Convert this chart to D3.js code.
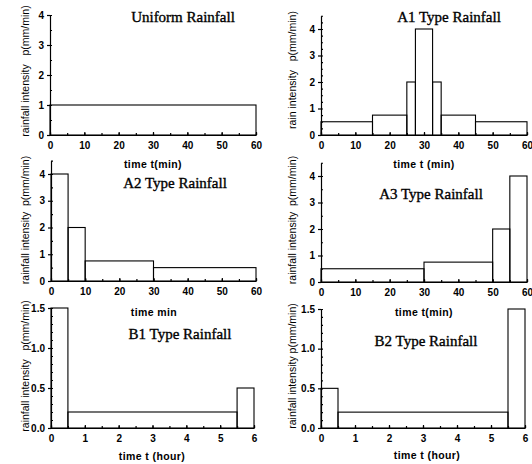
<!DOCTYPE html>
<html>
<head>
<meta charset="utf-8">
<script src="https://cdn.jsdelivr.net/npm/d3@7"></script>
<style>
  body { margin: 0; background: #fff; }
  svg { display: block; }
  .tick text { font-family: "Liberation Sans", Arial, sans-serif; font-weight: bold; font-size: 10px; }
</style>
</head>
<body>
<div id="chart"></div>
<script>
// data: interval edges (time) and intensity of each interval
const uniformEdges = [0, 60];
const uniformValues = [1];
const a1Edges = [0, 15, 25, 27.5, 32.5, 35, 45, 60];
const a1Values = [0.5, 0.75, 2, 4, 2, 0.75, 0.5];
const a2Edges = [0, 5, 10, 30, 60];
const a2Values = [4, 2, 0.75, 0.5];
const a3Edges = [0, 30, 50, 55, 60];
const a3Values = [0.5, 0.75, 2, 4];
const b1Edges = [0, 0.5, 5.5, 6];
const b1Values = [1.5, 0.2, 0.5];
const b2Edges = [0, 0.5, 5.5, 6];
const b2Values = [0.5, 0.2, 1.5];

const minTicks = [0, 10, 20, 30, 40, 50, 60];
const hourTicks = [0, 1, 2, 3, 4, 5, 6];
const intTicks = [0, 1, 2, 3, 4];
const halfTicks = [0, 0.5, 1.0, 1.5];

const titles = ['Uniform Rainfall', 'A1 Type Rainfall', 'A2 Type Rainfall',
  'A3 Type Rainfall', 'B1 Type Rainfall', 'B2 Type Rainfall'];
const yLabels = ['rainfall intensity   p(mm/min)', 'rain intensity   p(mm/min)',
  'rainfall intensity  p(mm/min)', 'rainfall intensity  p(mm/min)',
  'rainfall intensity   p(mm/min)', 'rainfall intensity p(mm/min)'];
const xLabels = ['time t(min)', 'time t (min)', 'time min', 'time t(min)',
  'time t (hour)', 'time t (hour)'];

const width = 532, height = 464;
const svg = d3.select('#chart').append('svg')
  .attr('width', width).attr('height', height);

// panel frames: x0, x1 pixel; y0 = pixel of zero, yRef = pixel of refVal
const panels = [
  { edges: uniformEdges, values: uniformValues, x0: 50, x1: 256, y0: 135, yRef: 15, refVal: 4, yMax: 4,
    xTicks: minTicks, xMinor: 5, yTicks: intTicks, yMinor: 0.5, fmt: d3.format('d'),
    title: [183, 22], xl: [153, 168], yl: [25, 71] },
  { edges: a1Edges, values: a1Values, x0: 321, x1: 527, y0: 135, yRef: 29, refVal: 4, yMax: 4.5,
    xTicks: minTicks, xMinor: 5, yTicks: intTicks, yMinor: 0.25, fmt: d3.format('d'),
    title: [449, 22], xl: [424, 168], yl: [292, 70] },
  { edges: a2Edges, values: a2Values, x0: 51, x1: 256, y0: 281, yRef: 174, refVal: 4, yMax: 4.5,
    xTicks: minTicks, xMinor: 5, yTicks: intTicks, yMinor: 0.5, fmt: d3.format('d'),
    title: [175, 188], xl: [154, 316], yl: [25, 220] },
  { edges: a3Edges, values: a3Values, x0: 321, x1: 527, y0: 282, yRef: 176, refVal: 4, yMax: 4.5,
    xTicks: minTicks, xMinor: 5, yTicks: intTicks, yMinor: 0.5, fmt: d3.format('d'),
    title: [431, 199], xl: [424, 316], yl: [292, 220] },
  { edges: b1Edges, values: b1Values, x0: 51, x1: 254, y0: 428, yRef: 308, refVal: 1.5, yMax: 1.5,
    xTicks: hourTicks, xMinor: 0.5, yTicks: halfTicks, yMinor: 0.1, fmt: d3.format('.1f'),
    title: [180, 339], xl: [152, 460], yl: [25, 366] },
  { edges: b2Edges, values: b2Values, x0: 321, x1: 525, y0: 428, yRef: 309, refVal: 1.5, yMax: 1.5,
    xTicks: hourTicks, xMinor: 0.5, yTicks: halfTicks, yMinor: 0.1, fmt: d3.format('.1f'),
    title: [426, 346], xl: [427, 459], yl: [292, 366] }
];

panels.forEach((p, i) => {
  const g = svg.append('g');
  const xMax = p.xTicks[p.xTicks.length - 1];
  const x = d3.scaleLinear().domain([0, xMax]).range([p.x0, p.x1]);
  const unit = (p.y0 - p.yRef) / p.refVal;
  const y = d3.scaleLinear().domain([0, p.yMax]).range([p.y0, p.y0 - unit * p.yMax]);

  // minor ticks
  const xMinorVals = d3.range(0, xMax + 1e-9, p.xMinor);
  g.append('g')
    .attr('transform', `translate(0,${p.y0})`)
    .call(d3.axisBottom(x).tickValues(xMinorVals).tickSize(-2).tickFormat(''))
    .call(a => a.select('.domain').remove());
  const yMinorVals = d3.range(0, p.yMax + 1e-9, p.yMinor);
  g.append('g')
    .attr('transform', `translate(${p.x0},0)`)
    .call(d3.axisLeft(y).tickValues(yMinorVals).tickSize(-2).tickFormat(''))
    .call(a => a.select('.domain').remove());

  // major axes
  g.append('g')
    .attr('transform', `translate(0,${p.y0})`)
    .call(d3.axisBottom(x).tickValues(p.xTicks).tickSizeInner(-3).tickSizeOuter(0).tickPadding(7)
      .tickFormat(d3.format('d')));
  g.append('g')
    .attr('transform', `translate(${p.x0},0)`)
    .call(d3.axisLeft(y).tickValues(p.yTicks).tickSizeInner(3).tickSizeOuter(0).tickPadding(3)
      .tickFormat(p.fmt));

  g.selectAll('.domain, .tick line').attr('stroke', '#000').attr('stroke-width', 1.2);

  // step bars
  g.selectAll('rect.bar')
    .data(p.values)
    .enter()
    .append('rect')
    .attr('class', 'bar')
    .attr('x', (d, k) => x(p.edges[k]))
    .attr('width', (d, k) => x(p.edges[k + 1]) - x(p.edges[k]))
    .attr('y', d => y(d))
    .attr('height', d => p.y0 - y(d))
    .attr('fill', 'none')
    .attr('stroke', '#000')
    .attr('stroke-width', 1.1);

  // texts
  g.append('text')
    .attr('x', p.title[0]).attr('y', p.title[1])
    .attr('text-anchor', 'middle')
    .style('font-family', '"Liberation Serif", "Times New Roman", serif')
    .style('font-size', '15px')
    .attr('stroke', '#000')
    .attr('stroke-width', 0.35)
    .text(titles[i]);

  g.append('text')
    .attr('x', p.xl[0]).attr('y', p.xl[1])
    .attr('text-anchor', 'middle')
    .style('font-family', '"Liberation Sans", Arial, sans-serif')
    .style('font-size', '10.5px')
    .style('font-weight', 'bold')
    .style('letter-spacing', '0.4px')
    .text(xLabels[i]);

  g.append('text')
    .attr('transform', `translate(${p.yl[0]},${p.yl[1]}) rotate(-90)`)
    .attr('text-anchor', 'middle')
    .attr('dy', '0.35em')
    .style('font-family', '"Liberation Sans", Arial, sans-serif')
    .style('font-size', '10.5px')
    .style('white-space', 'pre')
    .text(yLabels[i]);
});
</script>
</body>
</html>
